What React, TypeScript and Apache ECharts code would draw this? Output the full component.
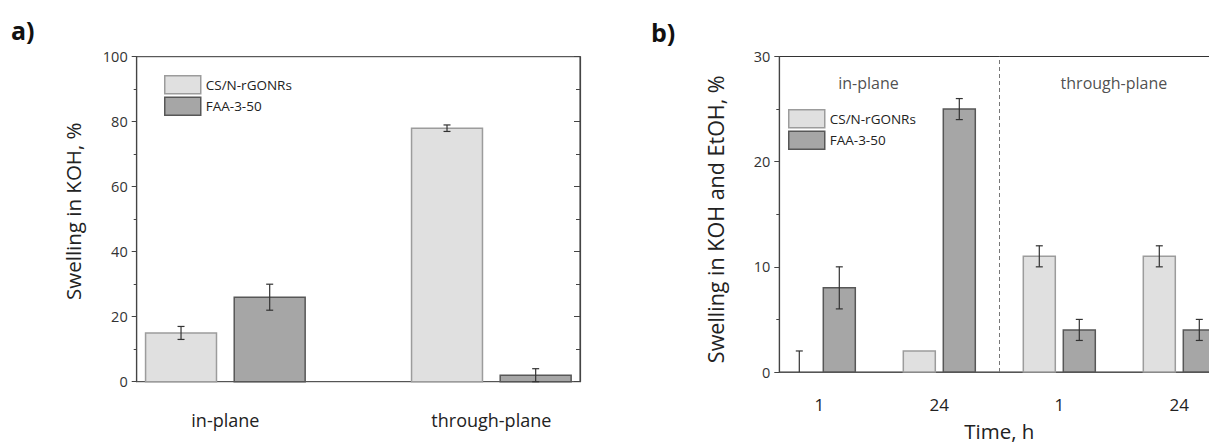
import React, { useEffect, useRef } from "react";
import * as echarts from "echarts";

// ---- data ----
const GROUPS_A = ["in-plane", "through-plane"];
const CS_A = [15, 78];
const CS_A_ERR = [2, 1];
const FAA_A = [26, 2];
const FAA_A_ERR = [4, 2];

const TIMES_B = ["1", "24", "1", "24"];
const CS_B = [0, 2, 11, 11];
const CS_B_ERR = [2, 0, 1, 1];
const FAA_B = [8, 25, 4, 4];
const FAA_B_ERR = [2, 1, 1, 1];
const SECTIONS_B = ["in-plane", "through-plane"];

const SERIES_NAMES = ["CS/N-rGONRs", "FAA-3-50"];
const TICKS_A = [0, 20, 40, 60, 80, 100];
const TICKS_B = [0, 10, 20, 30];

const FONT = "'Open Sans', 'Noto Sans', sans-serif";
const BAR_W = 0.2667;
const OFFSET = 1 / 6;

const CS_STYLE = { fill: "#e0e0e0", stroke: "#9c9c9c" };
const FAA_STYLE = { fill: "#a6a6a6", stroke: "#575757" };

function makeRender(style: { fill: string; stroke: string }) {
  return (params: any, api: any) => {
    const x = api.value(0);
    const v = api.value(1);
    const e = api.value(2);
    const children: any[] = [];
    if (v > 0) {
      const p0 = api.coord([x - BAR_W / 2, v]);
      const p1 = api.coord([x + BAR_W / 2, 0]);
      children.push({
        type: "rect",
        shape: { x: p0[0], y: p0[1], width: p1[0] - p0[0], height: p1[1] - p0[1] },
        style: { fill: style.fill, stroke: style.stroke, lineWidth: 1.5 },
      });
    }
    if (e > 0) {
      const top = api.coord([x, v + e]);
      const lo = Math.max(0, v - e);
      const bot = api.coord([x, lo]);
      const es = { stroke: "#333", lineWidth: 1.2 };
      children.push({ type: "line", shape: { x1: top[0], y1: top[1], x2: bot[0], y2: bot[1] }, style: es });
      children.push({ type: "line", shape: { x1: top[0] - 3.5, y1: top[1], x2: top[0] + 3.5, y2: top[1] }, style: es });
      if (v - e >= 0) {
        children.push({ type: "line", shape: { x1: bot[0] - 3.5, y1: bot[1], x2: bot[0] + 3.5, y2: bot[1] }, style: es });
      }
    }
    return { type: "group", children };
  };
}

function buildData(values: number[], errs: number[], sign: number) {
  return values.map((v, i) => [i + 1 + sign * OFFSET, v, errs[i]]);
}

const legendData = [
  { name: SERIES_NAMES[0], itemStyle: { color: CS_STYLE.fill, borderColor: CS_STYLE.stroke, borderWidth: 1.5 } },
  { name: SERIES_NAMES[1], itemStyle: { color: FAA_STYLE.fill, borderColor: FAA_STYLE.stroke, borderWidth: 1.5 } },
];

function legendAt(left: number, top: number) {
  return {
    left,
    top,
    orient: "vertical",
    itemWidth: 36,
    itemHeight: 18,
    itemGap: 2,
    padding: 0,
    icon: "rect",
    selectedMode: false,
    textStyle: { fontSize: 13.5, color: "#222", fontFamily: FONT },
    data: legendData,
  };
}

export default function App() {
  const ref = useRef<HTMLDivElement>(null);
  useEffect(() => {
    const chart = echarts.init(ref.current!, null, { renderer: "svg" });
    const tickLabel = { fontSize: 14.5, color: "#333", fontFamily: FONT, margin: 9 };
    const option: any = {
      animation: false,
      textStyle: { fontFamily: FONT },
      graphic: [
        { type: "text", left: 11, top: 17, style: { text: "a)", fontSize: 25, fontWeight: "bold", fill: "#111", fontFamily: FONT } },
        { type: "text", left: 651, top: 19, style: { text: "b)", fontSize: 25, fontWeight: "bold", fill: "#111", fontFamily: FONT } },
      ],
      legend: [legendAt(164, 75), legendAt(788, 109)],
      grid: [
        { left: 136.7, top: 56.7, width: 443.3, height: 325, show: true, borderColor: "#333", borderWidth: 1, backgroundColor: "transparent" },
        { left: 779.3, top: 56.5, width: 440, height: 325, show: true, borderColor: "#333", borderWidth: 1, backgroundColor: "transparent" },
      ],
      xAxis: [
        {
          type: "value",
          gridIndex: 0,
          min: 2 / 3,
          max: 7 / 3,
          splitLine: { show: false },
          axisLine: { show: true, lineStyle: { color: "#555", width: 1.2 } },
          axisTick: { show: false },
          axisLabel: {
            customValues: [1, 2],
            formatter: (v: number) => GROUPS_A[Math.round(v) - 1] ?? "",
            fontSize: 18,
            lineHeight: 20,
            color: "#222",
            fontFamily: FONT,
            margin: 28,
          },
        },
        {
          type: "value",
          gridIndex: 1,
          min: 2 / 3,
          max: 13 / 3,
          name: "Time, h",
          nameLocation: "middle",
          nameGap: 48,
          nameTextStyle: { fontSize: 20.5, color: "#222", fontFamily: FONT, lineHeight: 22 },
          splitLine: { show: false },
          axisLine: { show: true, lineStyle: { color: "#555", width: 1.2 } },
          axisTick: { show: false },
          axisLabel: {
            customValues: [1, 2, 3, 4],
            formatter: (v: number) => TIMES_B[Math.round(v) - 1] ?? "",
            fontSize: 17,
            lineHeight: 20,
            color: "#222",
            fontFamily: FONT,
            margin: 22,
          },
        },
      ],
      yAxis: [
        {
          type: "value",
          gridIndex: 0,
          min: TICKS_A[0],
          max: TICKS_A[TICKS_A.length - 1],
          interval: 20,
          name: "Swelling in KOH, %",
          nameLocation: "middle",
          nameGap: 53,
          nameTextStyle: { fontSize: 20.5, color: "#222", fontFamily: FONT, padding: [0, 0, 0, 16] },
          splitLine: { show: false },
          axisLine: { show: true, lineStyle: { color: "#444", width: 1.2 } },
          axisTick: { show: true, length: 5, lineStyle: { color: "#444" } },
          minorTick: { show: true, splitNumber: 2, length: 3, lineStyle: { color: "#444" } },
          axisLabel: tickLabel,
        },
        {
          type: "value",
          gridIndex: 0,
          position: "right",
          min: TICKS_A[0],
          max: TICKS_A[TICKS_A.length - 1],
          interval: 20,
          splitLine: { show: false },
          axisLine: { show: true, lineStyle: { color: "#444", width: 1.2 } },
          axisTick: { show: true, inside: true, length: 6, lineStyle: { color: "#444" } },
          minorTick: { show: true, splitNumber: 2, length: 4, lineStyle: { color: "#444" } },
          axisLabel: { show: false },
        },
        {
          type: "value",
          gridIndex: 1,
          min: TICKS_B[0],
          max: TICKS_B[TICKS_B.length - 1],
          interval: 10,
          name: "Swelling in KOH and EtOH, %",
          nameLocation: "middle",
          nameGap: 53,
          nameTextStyle: { fontSize: 21.5, color: "#222", fontFamily: FONT, padding: [0, 10, 0, 0] },
          splitLine: { show: false },
          axisLine: { show: true, lineStyle: { color: "#444", width: 1.2 } },
          axisTick: { show: true, length: 5, lineStyle: { color: "#444" } },
          minorTick: { show: true, splitNumber: 2, length: 3, lineStyle: { color: "#444" } },
          axisLabel: tickLabel,
        },
      ],
      series: [
        {
          type: "custom",
          name: SERIES_NAMES[0],
          xAxisIndex: 0,
          yAxisIndex: 0,
          renderItem: makeRender(CS_STYLE),
          encode: { x: 0, y: 1 },
          itemStyle: { color: CS_STYLE.fill },
          data: buildData(CS_A, CS_A_ERR, -1),
        },
        {
          type: "custom",
          name: SERIES_NAMES[1],
          xAxisIndex: 0,
          yAxisIndex: 0,
          renderItem: makeRender(FAA_STYLE),
          encode: { x: 0, y: 1 },
          itemStyle: { color: FAA_STYLE.fill },
          data: buildData(FAA_A, FAA_A_ERR, 1),
        },
        {
          type: "custom",
          name: SERIES_NAMES[0],
          xAxisIndex: 1,
          yAxisIndex: 2,
          renderItem: makeRender(CS_STYLE),
          encode: { x: 0, y: 1 },
          itemStyle: { color: CS_STYLE.fill },
          data: buildData(CS_B, CS_B_ERR, -1),
        },
        {
          type: "custom",
          name: SERIES_NAMES[1],
          xAxisIndex: 1,
          yAxisIndex: 2,
          renderItem: makeRender(FAA_STYLE),
          encode: { x: 0, y: 1 },
          itemStyle: { color: FAA_STYLE.fill },
          data: buildData(FAA_B, FAA_B_ERR, 1),
        },
        {
          type: "scatter",
          name: "sections",
          xAxisIndex: 1,
          yAxisIndex: 2,
          symbolSize: 1,
          itemStyle: { color: "transparent" },
          silent: true,
          label: {
            show: true,
            position: "inside",
            formatter: (p: any) => p.name,
            fontSize: 16,
            color: "#222",
            fontFamily: FONT,
          },
          data: [
            { name: SECTIONS_B[0], value: [1.41, 27.5] },
            { name: SECTIONS_B[1], value: [3.455, 27.5] },
          ],
          markLine: {
            silent: true,
            symbol: ["none", "none"],
            label: { show: false },
            lineStyle: { type: [4, 3], color: "#777", width: 1 },
            data: [{ xAxis: 2.5 }],
          },
        },
      ],
    };
    chart.setOption(option);
    return () => chart.dispose();
  }, []);
  return (
    <div
      style={{ position: "absolute", left: 0, top: 0, width: 1209, height: 447, overflow: "hidden", background: "#fff" }}
    >
      <div ref={ref} style={{ position: "absolute", left: 0, top: 0, width: 1280, height: 447 }} />
    </div>
  );
}
